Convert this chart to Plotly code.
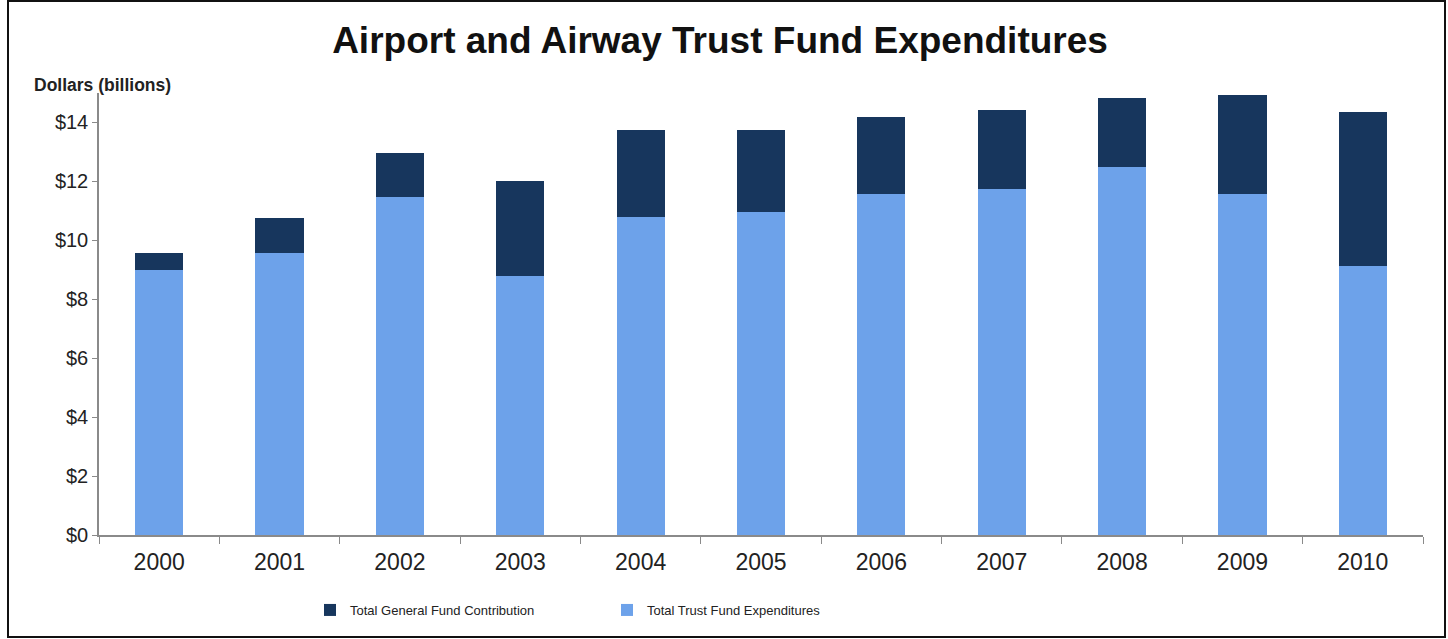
import plotly.graph_objects as go

years = ["2000", "2001", "2002", "2003", "2004", "2005", "2006", "2007", "2008", "2009", "2010"]
trust_fund = [8.98, 9.58, 11.46, 8.78, 10.80, 10.97, 11.58, 11.73, 12.48, 11.58, 9.14]
total = [9.57, 10.75, 12.95, 12.02, 13.76, 13.76, 14.20, 14.43, 14.84, 14.93, 14.37]
general_fund = [round(t - f, 2) for t, f in zip(total, trust_fund)]
y_ticks = [0, 2, 4, 6, 8, 10, 12, 14]
y_tick_labels = ["$" + str(v) for v in y_ticks]

fig = go.Figure()
fig.add_trace(go.Bar(
    x=years, y=trust_fund, name="Total Trust Fund Expenditures",
    marker=dict(color="#6da2ea", line=dict(width=0)),
))
fig.add_trace(go.Bar(
    x=years, y=general_fund, name="Total General Fund Contribution",
    marker=dict(color="#17365d", line=dict(width=0)),
))

L, R, T, B = 99, 25, 93, 104
W, H = 1448, 639
pw = W - L - R
ph = H - T - B

def px_x(x):
    return (x - L) / pw

def px_y(y):
    return (H - B - y) / ph

fig.update_layout(
    width=W, height=H,
    barmode="stack", bargap=0.6,
    plot_bgcolor="white", paper_bgcolor="white",
    margin=dict(l=L, r=R, t=T, b=B),
    font=dict(family="Liberation Sans, Arial, sans-serif", color="#222222"),
    title=dict(
        text="<b>Airport and Airway Trust Fund Expenditures</b>",
        x=px_x(720), xref="paper", xanchor="center",
        y=1 - 40 / H, yanchor="middle",
        font=dict(size=37, color="#111111"),
    ),
    xaxis=dict(
        type="category", showgrid=False, showline=True, linecolor="#8a8a8a", linewidth=1.5,
        ticks="outside", tickson="boundaries", ticklen=7, tickcolor="#8a8a8a",
        tickfont=dict(size=23, color="#222222"), ticklabelstandoff=6,
    ),
    yaxis=dict(
        range=[0, 15], showgrid=False, showline=True, linecolor="#8a8a8a", linewidth=1.5,
        ticks="outside", ticklen=5, tickcolor="#8a8a8a",
        tickvals=y_ticks, ticktext=y_tick_labels,
        tickfont=dict(size=20, color="#222222"), zeroline=False,
    ),
    legend=dict(
        orientation="h", traceorder="reversed",
        x=px_x(310), xanchor="left", y=px_y(610), yanchor="middle",
        entrywidth=252, entrywidthmode="pixels", itemwidth=30,
        font=dict(size=13, family="Liberation Sans, Arial, sans-serif", color="#222222"),
        bgcolor="rgba(0,0,0,0)",
    ),
    showlegend=True,
)

fig.add_annotation(
    text="<b>Dollars (billions)</b>", xref="paper", yref="paper",
    x=px_x(32), y=px_y(85), xanchor="left", yanchor="middle",
    showarrow=False, font=dict(size=17.5, color="#222222"),
)

fig.add_shape(
    type="rect", xref="paper", yref="paper",
    x0=px_x(8), x1=px_x(1445), y0=px_y(637), y1=px_y(1),
    line=dict(color="#111111", width=2), fillcolor="rgba(0,0,0,0)", layer="below",
)

fig.write_html("out.html")
